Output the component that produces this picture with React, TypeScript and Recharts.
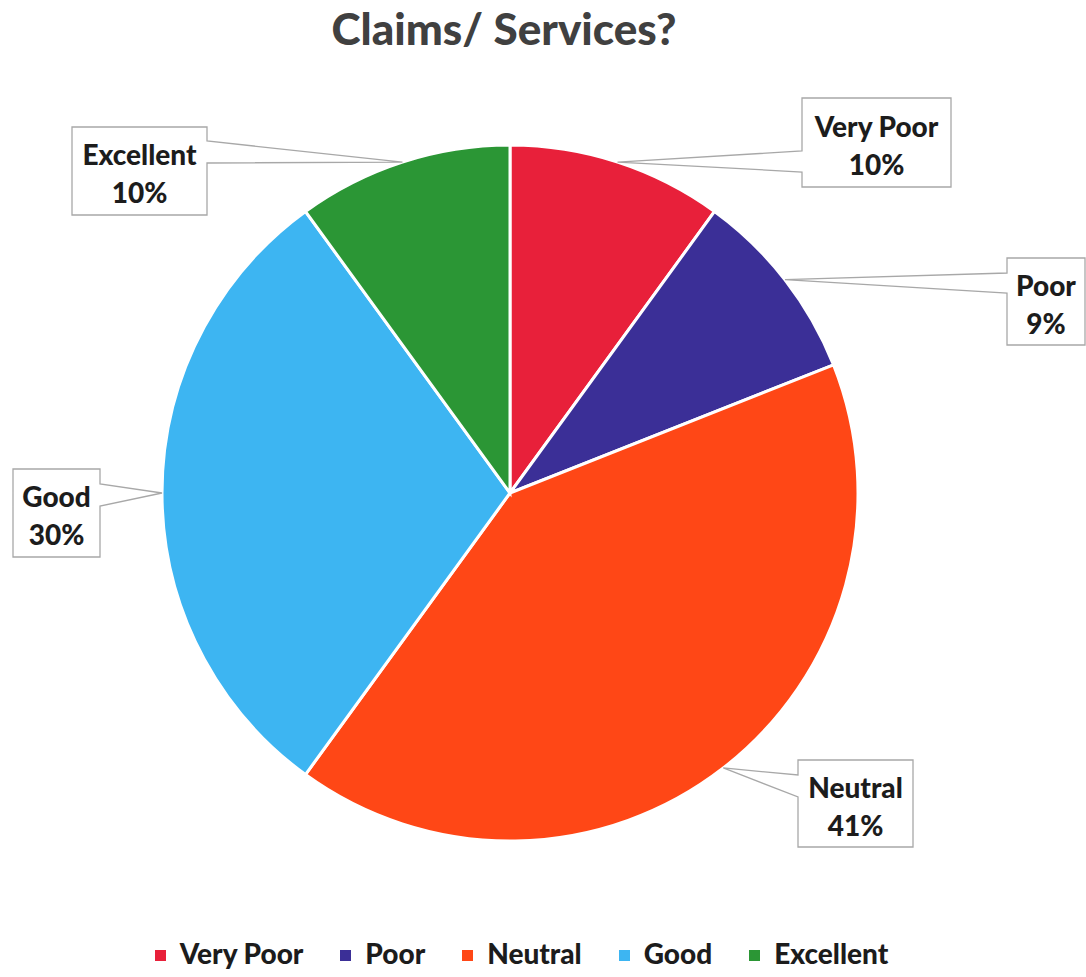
import { PieChart, Pie, Cell, Legend } from "recharts";

const categories = ["Very Poor", "Poor", "Neutral", "Good", "Excellent"];
const shares = [10, 9, 41, 30, 10];
const colors = ["#E8203A", "#3B2F97", "#FF4716", "#3DB5F2", "#2B9635"];

const data = categories.map((name, i) => ({ name, value: shares[i] }));

const FONT = "Lato, 'Open Sans', sans-serif";
const RAD = Math.PI / 180;

// callout boxes: x0,y0,x1,y1 and the wedge where the pointer meets the box
type Box = { x0: number; y0: number; x1: number; y1: number; side: "left" | "right"; wa: number; wb: number };
const boxes: Record<string, Box> = {
  "Very Poor": { x0: 802, y0: 98, x1: 951, y1: 187, side: "left", wa: 151, wb: 172 },
  Poor: { x0: 1007, y0: 258, x1: 1085, y1: 345, side: "left", wa: 273, wb: 293 },
  Neutral: { x0: 798, y0: 760, x1: 913, y1: 847, side: "left", wa: 775, wb: 797 },
  Good: { x0: 13, y0: 469, x1: 100, y1: 557, side: "right", wa: 484, wb: 506 },
  Excellent: { x0: 72, y0: 127, x1: 207, y1: 215, side: "right", wa: 141, wb: 163 },
};

function renderCallout(props: any) {
  const { cx, cy, midAngle, outerRadius, name, value } = props;
  const b = boxes[name];
  if (!b) return null;
  const ax = cx + outerRadius * Math.cos(-midAngle * RAD);
  const ay = cy + outerRadius * Math.sin(-midAngle * RAD);
  const d =
    b.side === "left"
      ? `M${b.x0},${b.y0} L${b.x1},${b.y0} L${b.x1},${b.y1} L${b.x0},${b.y1} L${b.x0},${b.wb} L${ax},${ay} L${b.x0},${b.wa} Z`
      : `M${b.x0},${b.y0} L${b.x1},${b.y0} L${b.x1},${b.wa} L${ax},${ay} L${b.x1},${b.wb} L${b.x1},${b.y1} L${b.x0},${b.y1} Z`;
  const mx = (b.x0 + b.x1) / 2;
  const my = (b.y0 + b.y1) / 2;
  return (
    <g>
      <path d={d} fill="#fff" stroke="#a8a8a8" strokeWidth={1.3} />
      <text x={mx} y={my - 6} textAnchor="middle" fontFamily={FONT} fontWeight={900} fontSize={28} fill="#1c1c1c">
        {name}
      </text>
      <text x={mx} y={my + 32} textAnchor="middle" fontFamily={FONT} fontWeight={900} fontSize={28} fill="#1c1c1c">
        {`${value}%`}
      </text>
    </g>
  );
}

function renderLegend() {
  return (
    <div
      style={{
        display: "flex",
        justifyContent: "center",
        alignItems: "center",
        gap: 37,
        paddingRight: 43,
        fontFamily: FONT,
      }}
    >
      {categories.map((name, i) => (
        <div key={name} style={{ display: "flex", alignItems: "center", gap: 14 }}>
          <span style={{ width: 11, height: 11, background: colors[i], display: "inline-block", marginTop: 4 }} />
          <span style={{ fontSize: 28, fontWeight: 900, color: "#1c1c1c" }}>{name}</span>
        </div>
      ))}
    </div>
  );
}

export default function App() {
  return (
    <div style={{ position: "absolute", left: 0, top: 0, width: 1086, height: 977, background: "#fff" }}>
      <PieChart width={1086} height={977} margin={{ top: 0, right: 0, bottom: 0, left: 0 }}>
        <text x={504} y={45} textAnchor="middle" fontFamily={FONT} fontWeight={900} fontSize={44} fill="#404040">
          Claims/ Services?
        </text>
        <Pie
          data={data}
          dataKey="value"
          nameKey="name"
          cx={510}
          cy={493}
          outerRadius={348}
          startAngle={90}
          endAngle={-270}
          stroke="#fff"
          strokeWidth={3}
          label={renderCallout}
          labelLine={false}
          isAnimationActive={false}
        >
          {data.map((d, i) => (
            <Cell key={d.name} fill={colors[i]} />
          ))}
        </Pie>
        <Legend
          content={renderLegend}
          wrapperStyle={{ position: "absolute", left: 0, top: 936, width: 1086 }}
        />
      </PieChart>
    </div>
  );
}
